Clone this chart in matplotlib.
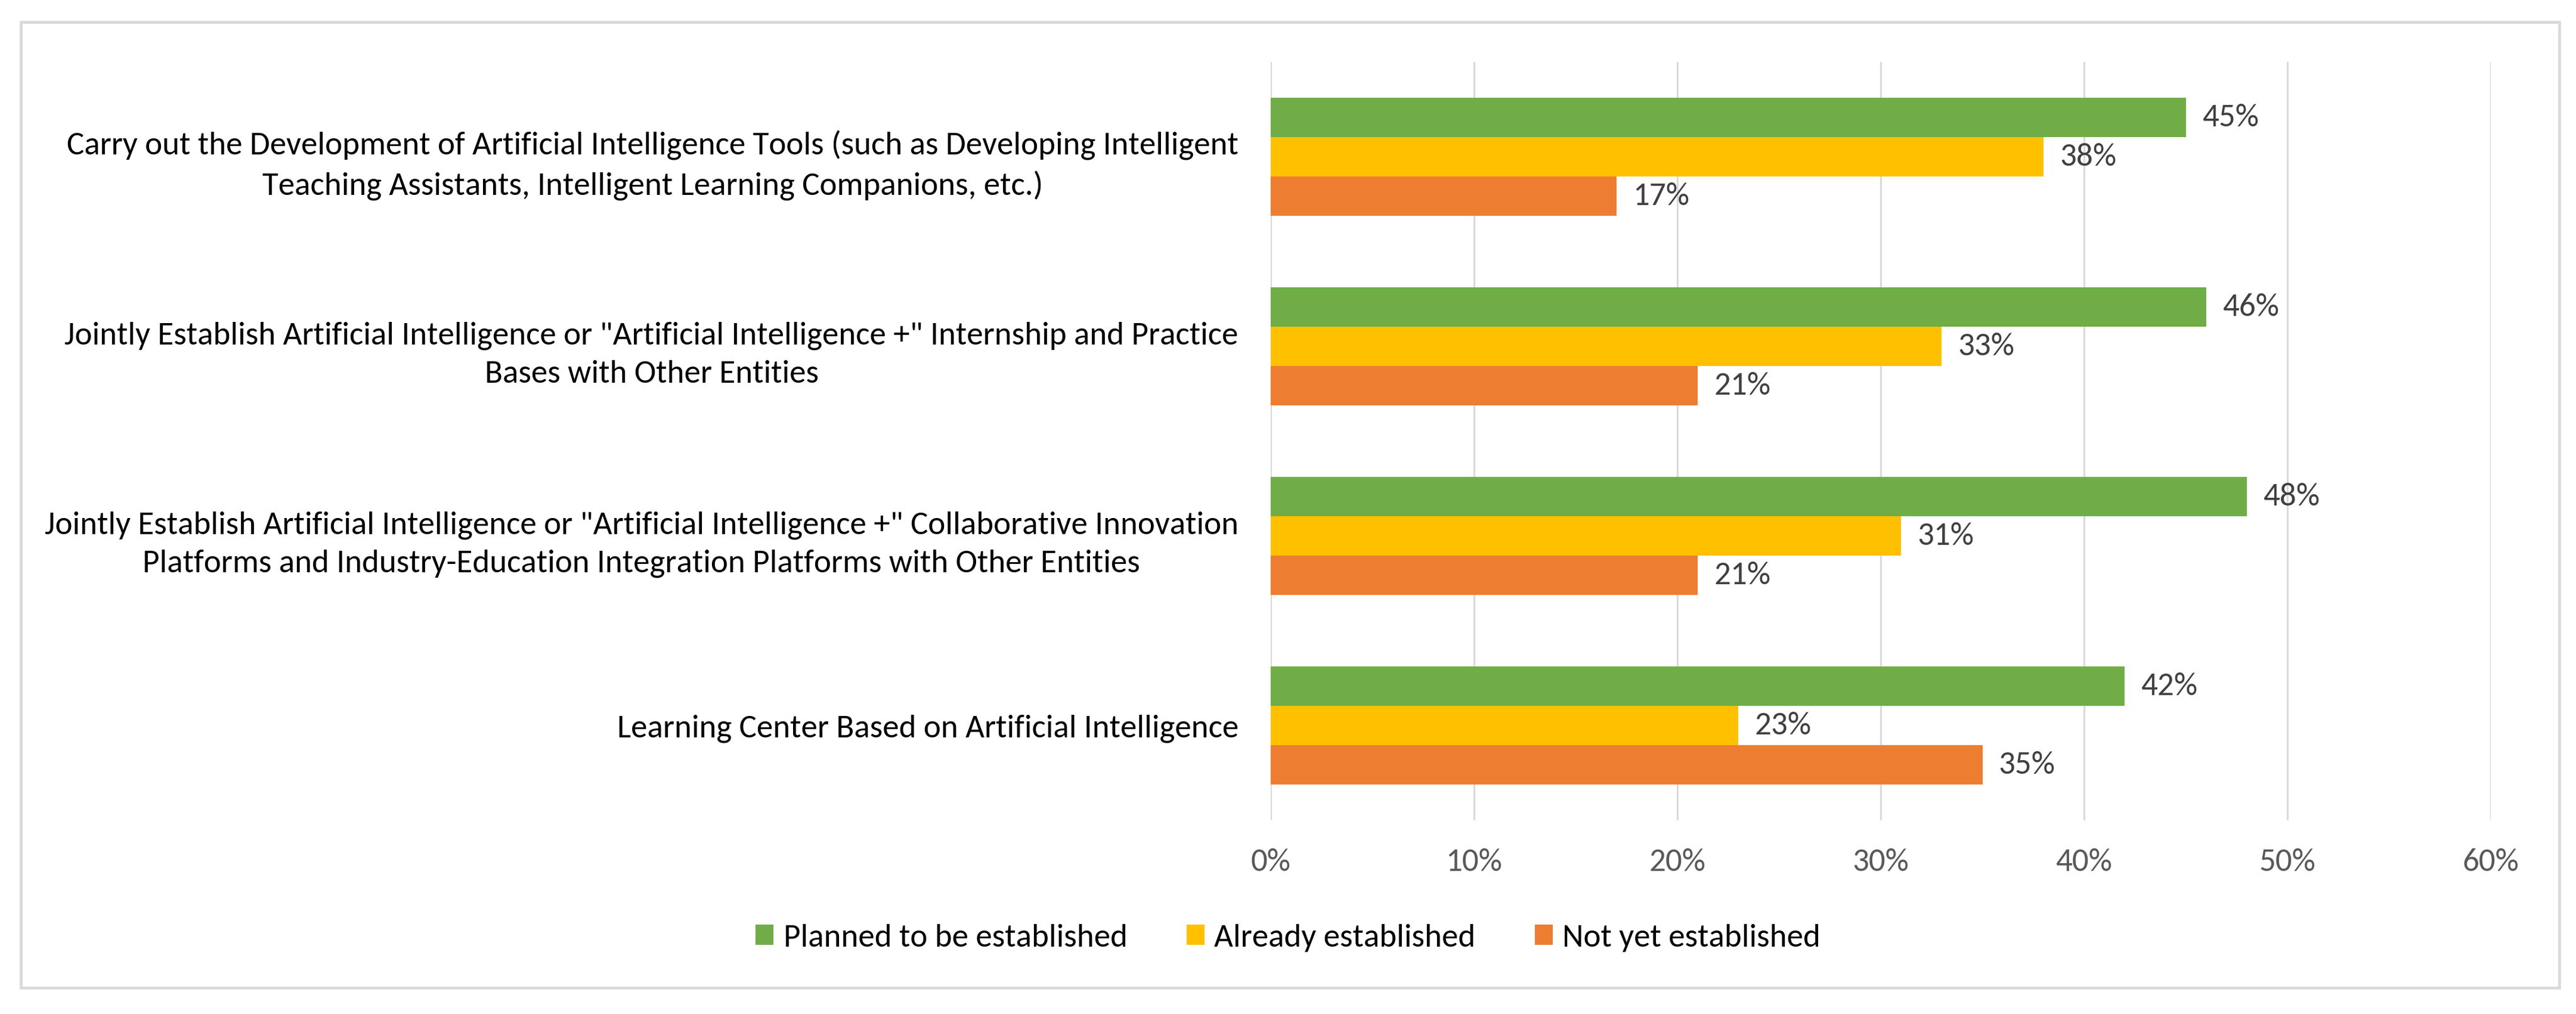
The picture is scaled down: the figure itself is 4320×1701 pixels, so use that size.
import matplotlib
matplotlib.use("Agg")
import matplotlib.pyplot as plt
from matplotlib.patches import Patch, Rectangle
import numpy as np

plt.rcParams['font.family'] = ['Carlito', 'Lato', 'DejaVu Sans']

categories = [
    "Carry out the Development of Artificial Intelligence Tools (such as Developing Intelligent\nTeaching Assistants, Intelligent Learning Companions, etc.)",
    "Jointly Establish Artificial Intelligence or \"Artificial Intelligence +\" Internship and Practice\nBases with Other Entities",
    "Jointly Establish Artificial Intelligence or \"Artificial Intelligence +\" Collaborative Innovation\nPlatforms and Industry-Education Integration Platforms with Other Entities",
    "Learning Center Based on Artificial Intelligence",
]
series_names = ["Planned to be established", "Already established", "Not yet established"]
planned = [45, 46, 48, 42]
already = [38, 33, 31, 23]
not_yet = [17, 21, 21, 35]
xtick_values = [0, 10, 20, 30, 40, 50, 60]
xtick_labels = ["0%", "10%", "20%", "30%", "40%", "50%", "60%"]

colors = ["#70AD47", "#FFC000", "#ED7D31"]

W, H, DPI = 4320, 1702, 300
fig = plt.figure(figsize=(W / DPI, H / DPI), dpi=DPI)

ax = fig.add_axes([2131 / W, 1 - 1377 / H, (4177 - 2131) / W, (1377 - 105) / H])

y = np.arange(len(categories))
bh = 66 / 318
for k, (vals, c) in enumerate(zip([planned, already, not_yet], colors)):
    off = (k - 1) * bh
    ax.barh(y + off, vals, height=bh, color=c, label=series_names[k], zorder=3)
    for yy, v in zip(y + off, vals):
        ax.text(v + 0.8, yy, f"{v}%", va='center', ha='left', fontsize=13.2,
                color="#404040", zorder=4)

ax.set_ylim(3.5, -0.5)
ax.set_xlim(0, 60)
ax.set_xticks(xtick_values)
ax.set_xticklabels(xtick_labels, fontsize=13.2, color="#595959")
ax.set_yticks(y)
ax.set_yticklabels(categories, fontsize=13.2, color="#000000", multialignment='center',
                   linespacing=1.45)
ax.tick_params(axis='both', length=0)
ax.tick_params(axis='x', pad=11)
ax.tick_params(axis='y', pad=13)
ax.grid(axis='x', color="#D9D9D9", linewidth=0.72, zorder=0)
for s in ax.spines.values():
    s.set_visible(False)
ax.set_facecolor('none')

handles = [Patch(facecolor=c, edgecolor='none') for c in colors]
fig.legend(handles, series_names, loc='center', bbox_to_anchor=(0.5, 1 - 1574 / H),
           ncol=3, frameon=False, fontsize=13.2, handlelength=0.55, handleheight=0.55,
           handletextpad=0.3, columnspacing=1.8)

fig.patches.append(Rectangle((35 / W, 1 - 1658 / H), (4292 - 35) / W, (1658 - 38) / H,
                             transform=fig.transFigure, fill=False, edgecolor="#D9D9D9",
                             linewidth=1.13, zorder=0))

fig.savefig("out.png", dpi=DPI, facecolor='white')
